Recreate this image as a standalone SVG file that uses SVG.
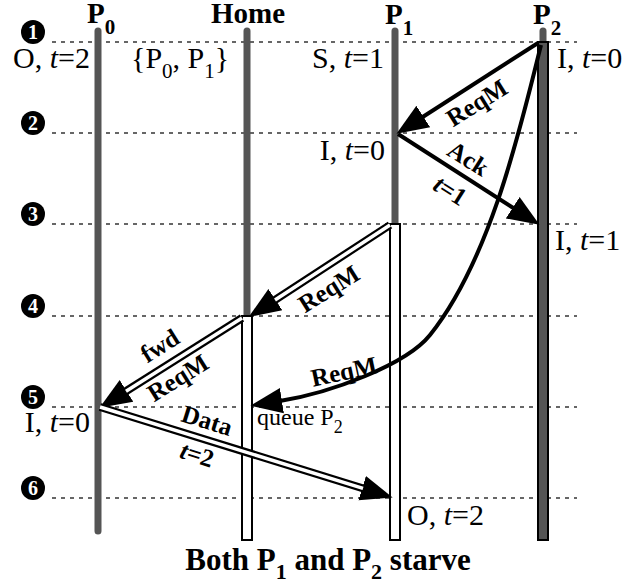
<svg xmlns="http://www.w3.org/2000/svg" width="643" height="585" viewBox="0 0 643 585">
<style>
.t{font-family:"Liberation Serif","Times New Roman",serif;fill:#000}
.lbl{font-size:30px}
.head{font-size:29px;font-weight:bold}
.sub{font-size:21px}
.bsub{font-size:21px;font-weight:bold}
.al{font-size:25px;font-weight:bold}
.num{font-family:"Liberation Serif",serif;font-size:20px;font-weight:bold;fill:#fff}
.dot{stroke:#666;stroke-width:2;stroke-dasharray:4 5;fill:none}
.gl{stroke:#555;stroke-width:7;stroke-linecap:round;fill:none}
.wr{fill:#fff;stroke:#000;stroke-width:2}
.single{stroke:#000;stroke-width:4;fill:none}
.dblo{stroke:#000;stroke-width:8;fill:none}
.dbli{stroke:#fff;stroke-width:3.5;fill:none}
</style>
<defs>
<marker id="ah" markerUnits="userSpaceOnUse" markerWidth="34" markerHeight="28" refX="2" refY="12" orient="auto" viewBox="0 0 32 24">
<path d="M0,0 L30,12 L0,24 Z" fill="#000"/>
</marker>
</defs>
<rect width="643" height="585" fill="#fff"/>
<g id="gridlines">
<line class="dot" x1="52" y1="42" x2="577" y2="42"/>
<line class="dot" x1="52" y1="133" x2="577" y2="133"/>
<line class="dot" x1="52" y1="224" x2="577" y2="224"/>
<line class="dot" x1="52" y1="316" x2="577" y2="316"/>
<line class="dot" x1="52" y1="407" x2="577" y2="407"/>
<line class="dot" x1="52" y1="498" x2="577" y2="498"/>
</g>
<g id="steps">
<circle cx="33" cy="32" r="12"/><text class="num" x="33" y="39" text-anchor="middle">1</text>
<circle cx="33" cy="123" r="12"/><text class="num" x="33" y="130" text-anchor="middle">2</text>
<circle cx="33" cy="214" r="12"/><text class="num" x="33" y="221" text-anchor="middle">3</text>
<circle cx="33" cy="306" r="12"/><text class="num" x="33" y="313" text-anchor="middle">4</text>
<circle cx="33" cy="397" r="12"/><text class="num" x="33" y="404" text-anchor="middle">5</text>
<circle cx="33" cy="488" r="12"/><text class="num" x="33" y="495" text-anchor="middle">6</text>
</g>
<g id="P0">
<line class="gl" x1="98" y1="31" x2="98" y2="531"/>
<text class="t head" x="87" y="23">P<tspan class="bsub" dy="11">0</tspan></text>
<text class="t lbl" x="90" y="68" text-anchor="end">O, <tspan font-style="italic">t</tspan>=2</text>
<text class="t lbl" x="90" y="432" text-anchor="end">I, <tspan font-style="italic">t</tspan>=0</text>
</g>
<g id="Home">
<line class="gl" x1="247" y1="31" x2="247" y2="316"/>
<rect class="wr" x="242" y="316" width="10" height="224"/>
<text class="t head" x="211" y="23">Home</text>
<text class="t lbl" x="131" y="68">{P<tspan class="sub" dy="10">0</tspan><tspan dy="-10">, P</tspan><tspan class="sub" dy="10">1</tspan><tspan dy="-10">}</tspan></text>
<text class="t" x="257" y="425" font-size="24">queue P<tspan font-size="18" dy="8">2</tspan></text>
</g>
<g id="P1">
<line class="gl" x1="395" y1="31" x2="395" y2="224"/>
<rect class="wr" x="390" y="224" width="10" height="316"/>
<text class="t head" x="385" y="24">P<tspan class="bsub" dy="11">1</tspan></text>
<text class="t lbl" x="384" y="68" text-anchor="end">S, <tspan font-style="italic">t</tspan>=1</text>
<text class="t lbl" x="385" y="160" text-anchor="end">I, <tspan font-style="italic">t</tspan>=0</text>
<text class="t lbl" x="407" y="525">O, <tspan font-style="italic">t</tspan>=2</text>
</g>
<g id="P2">
<line class="gl" x1="543" y1="31" x2="543" y2="44"/>
<rect x="538" y="42" width="10" height="498" fill="#555" stroke="#000" stroke-width="2"/>
<text class="t head" x="533" y="24">P<tspan class="bsub" dy="11">2</tspan></text>
<text class="t lbl" x="557" y="68">I, <tspan font-style="italic">t</tspan>=0</text>
<text class="t lbl" x="555" y="250">I, <tspan font-style="italic">t</tspan>=1</text>
</g>
<g id="connectors">
<path class="single" d="M538,43 L421.5,117.7" marker-end="url(#ah)"/>
<path class="single" d="M398,134 L514.5,208.8" marker-end="url(#ah)"/>
<path class="single" d="M541,45 C520,130 490,260 430,335 C406,365 330,393 279.8,401" marker-end="url(#ah)"/>
<path class="dblo" d="M390,225 L273.6,300.8" marker-end="url(#ah)"/>
<path class="dbli" d="M390,225 L275,300"/>
<path class="dblo" d="M242,318 L124.7,392" marker-end="url(#ah)"/>
<path class="dbli" d="M242,318 L126,391.3"/>
<path class="dblo" d="M100,407 L364.2,488.8" marker-end="url(#ah)"/>
<path class="dbli" d="M100,407 L363,488.4"/>
</g>
<g id="arrow-labels">
<text class="t al" text-anchor="middle" transform="translate(477,103) rotate(-32)" y="8">ReqM</text>
<text class="t al" text-anchor="middle" transform="translate(468,159) rotate(32)" y="8">Ack</text>
<text class="t al" text-anchor="middle" transform="translate(450,191) rotate(32)" y="8"><tspan font-style="italic">t</tspan>=1</text>
<text class="t al" text-anchor="middle" transform="translate(329,289) rotate(-32)" y="8">ReqM</text>
<text class="t al" text-anchor="middle" transform="translate(160,346) rotate(-32)" y="8">fwd</text>
<text class="t al" text-anchor="middle" transform="translate(178,378) rotate(-32)" y="8">ReqM</text>
<text class="t al" text-anchor="middle" transform="translate(344,372) rotate(-12)" y="8">ReqM</text>
<text class="t al" text-anchor="middle" transform="translate(207,421) rotate(17.4)" y="8">Data</text>
<text class="t al" text-anchor="middle" transform="translate(197,455) rotate(17.4)" y="8"><tspan font-style="italic">t</tspan>=2</text>
</g>
<g id="caption">
<text class="t" x="328" y="570" font-size="31" font-weight="bold" text-anchor="middle">Both P<tspan font-size="22" dy="9">1</tspan><tspan dy="-9"> and P</tspan><tspan font-size="22" dy="9">2</tspan><tspan dy="-9"> starve</tspan></text>
</g>
</svg>
